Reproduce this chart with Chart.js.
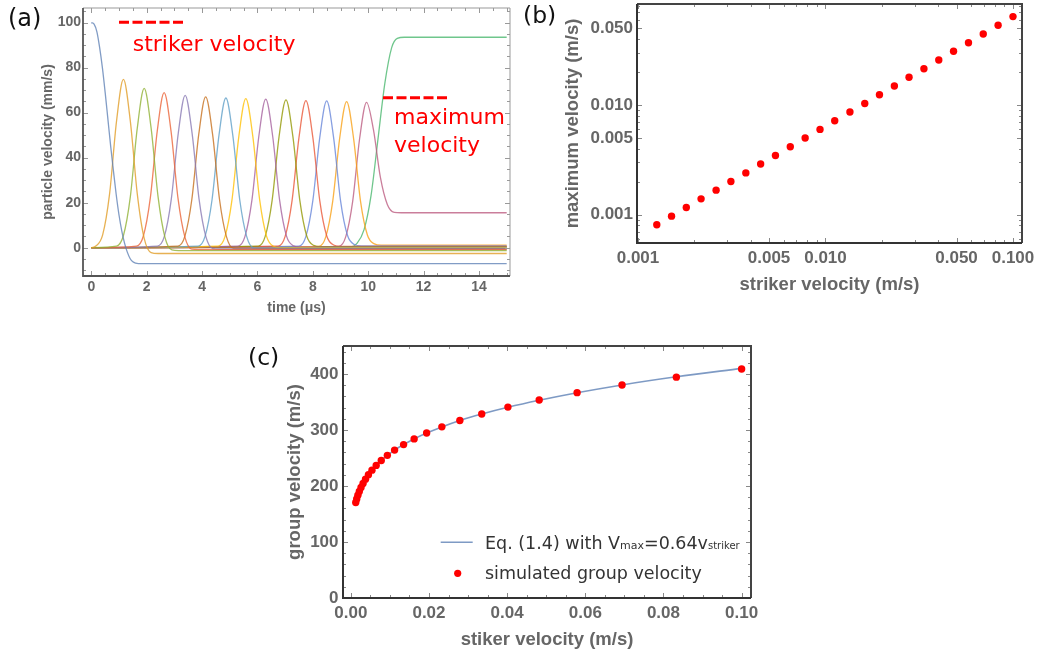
<!DOCTYPE html>
<html>
<head>
<meta charset="utf-8">
<script src="https://cdn.jsdelivr.net/npm/chart.js@4.4.1/dist/chart.umd.min.js"></script>
<style>
  html, body { margin: 0; padding: 0; background: #fff; }
  body { width: 1043px; height: 656px; position: relative; overflow: hidden; font-family: 'DejaVu Sans', sans-serif; }
  .box { position: absolute; }
  .lbl { position: absolute; line-height: 1; white-space: nowrap; }
  svg { position: absolute; left: 0; top: 0; pointer-events: none; }
</style>
</head>
<body>
<div class="box" style="left:0;top:0;width:520px;height:320px"><canvas id="chartA"></canvas></div>
<div class="box" style="left:520px;top:0;width:523px;height:310px"><canvas id="chartB"></canvas></div>
<div class="box" style="left:240px;top:330px;width:540px;height:326px"><canvas id="chartC"></canvas></div>

<div class="lbl" style="left:8px;top:5.7px;font-size:24px;color:#111">(a)</div>
<div class="lbl" style="left:523px;top:4.3px;font-size:23.5px;color:#111">(b)</div>
<div class="lbl" style="left:248px;top:345.6px;font-size:23.5px;color:#111">(c)</div>

<div class="lbl" style="left:132.7px;top:33.1px;font-size:22px;color:#ff0000">striker velocity</div>
<div class="lbl" style="left:394px;top:106.4px;font-size:22px;color:#ff0000">maximum</div>
<div class="lbl" style="left:394px;top:134.1px;font-size:22px;color:#ff0000">velocity</div>

<div class="lbl" style="left:485px;top:534.5px;font-size:17.5px;color:#333">Eq. (1.4) with V<span style="font-size:11px">max</span>=0.64v<span style="font-size:10px">striker</span></div>
<div class="lbl" style="left:485px;top:564.5px;font-size:17.5px;color:#333">simulated group velocity</div>

<svg width="1043" height="656">
  <line x1="119" y1="22.3" x2="186" y2="22.3" stroke="#ff0000" stroke-width="3" stroke-dasharray="10 3.5"/>
  <line x1="383" y1="97.7" x2="450" y2="97.7" stroke="#ff0000" stroke-width="3" stroke-dasharray="10 3.5"/>
  <line x1="440.7" y1="542.3" x2="472.7" y2="542.3" stroke="#5E81B5" stroke-opacity="0.8" stroke-width="1.6"/>
  <circle cx="457.7" cy="573.3" r="3.6" fill="#ff0000"/>
</svg>

<script>
// ---------- (a) particle velocity vs time, [t (us), v (mm/s)] ----------
const strikerCurve = [[0,100],[0.1,99.3],[0.2,96],[0.3,89],[0.4,80],[0.5,69],[0.6,57],[0.7,45],[0.8,34],[0.9,23.5],[1.0,14.5],[1.1,7.5],[1.2,2],[1.3,-2],[1.4,-4.8],[1.5,-6.3],[1.6,-6.9],[1.7,-7.1],[15,-7.1]];
const pulse01 = [[0,0],[0.16,0.7],[0.41,5.7],[0.66,23.9],[0.91,56.1],[1.16,74.8],[1.41,56.1],[1.66,23.9],[1.91,4.1],[2.16,-2.2],[2.41,-2.6],[15,-2.6]];
const pulse02 = [[0,0],[0.91,0.7],[1.16,5.4],[1.41,22.7],[1.66,53.1],[1.91,70.8],[2.16,53.1],[2.41,22.7],[2.66,4.6],[2.91,-1.0],[3.16,-1.3],[15,-1.3]];
const pulse03 = [[0,0],[1.63,0.7],[1.88,5.2],[2.13,22.0],[2.38,51.7],[2.63,68.9],[2.88,51.7],[3.13,22.0],[3.38,4.7],[3.63,-0.7],[3.88,-0.9],[15,-0.9]];
const pulse04 = [[0,0],[2.39,0.7],[2.64,5.1],[2.89,21.7],[3.14,50.8],[3.39,67.7],[3.64,50.8],[3.89,21.7],[4.14,4.8],[4.39,-0.4],[4.64,-0.6],[15,-0.6]];
const pulse05 = [[0,0],[3.13,0.7],[3.38,5.1],[3.63,21.4],[3.88,50.3],[4.13,67.0],[4.38,50.3],[4.63,21.4],[4.88,4.9],[5.13,-0.3],[5.38,-0.4],[15,-0.4]];
const pulse06 = [[0,0],[3.86,0.7],[4.11,5.1],[4.36,21.3],[4.61,49.9],[4.86,66.5],[5.11,49.9],[5.36,21.3],[5.61,5.0],[5.86,-0.1],[6.11,-0.2],[15,-0.2]];
const pulse07 = [[0,0],[4.58,0.7],[4.83,5.0],[5.08,21.2],[5.33,49.7],[5.58,66.2],[5.83,49.7],[6.08,21.2],[6.33,5.0],[6.58,0.6],[6.83,0],[15,0]];
const pulse08 = [[0,0],[5.30,0.7],[5.55,5.0],[5.80,21.1],[6.05,49.5],[6.30,66.0],[6.55,49.5],[6.80,21.1],[7.05,5.1],[7.30,0.8],[7.55,0.2],[15,0.2]];
const pulse09 = [[0,0],[6.03,0.7],[6.28,5.0],[6.53,21.0],[6.78,49.3],[7.03,65.7],[7.28,49.3],[7.53,21.0],[7.78,5.2],[8.03,1.0],[8.28,0.4],[15,0.4]];
const pulse10 = [[0,0],[6.75,0.7],[7.00,5.0],[7.25,20.9],[7.50,49.0],[7.75,65.3],[8.00,49.0],[8.25,20.9],[8.50,5.3],[8.75,1.2],[9.00,0.6],[15,0.6]];
const pulse11 = [[0,0],[7.50,0.7],[7.75,5.0],[8.00,20.9],[8.25,48.9],[8.50,65.2],[8.75,48.9],[9.00,20.9],[9.25,5.5],[9.50,1.4],[9.75,0.8],[15,0.8]];
const pulse12 = [[0,0],[8.22,0.6],[8.47,4.9],[8.72,20.8],[8.97,48.7],[9.22,64.9],[9.47,48.7],[9.72,20.8],[9.97,5.6],[10.22,1.7],[10.47,1.1],[15,1.1]];
const pulse13 = [[0,0],[8.94,0.6],[9.19,4.9],[9.44,20.7],[9.69,48.5],[9.94,64.6],[10.19,52.3],[10.44,31.2],[10.69,19.2],[10.94,15.7],[11.19,15.5],[15,15.5]];
const endCurve = [[0,0],[9.35,0.3],[9.6,2],[9.85,8],[10.1,23],[10.35,48],[10.6,73],[10.85,89],[11.05,93],[11.3,93.5],[15,93.5]];
const aTimeTicks = [0, 2, 4, 6, 8, 10, 12, 14];
const aVelTicks = [0, 20, 40, 60, 80, 100];

// ---------- (b) and (c) ----------
const strikerVel = [0.1, 0.0833, 0.0694, 0.0579, 0.0482, 0.0402, 0.0335, 0.0279, 0.0233, 0.0194, 0.0162, 0.0135, 0.0112, 0.00935, 0.00779, 0.00649, 0.00541, 0.00451, 0.00376, 0.00313, 0.00261, 0.00217, 0.00181, 0.00151, 0.00126];
const maxVel = [0.064, 0.0533, 0.0444, 0.0370, 0.0309, 0.0257, 0.0214, 0.0179, 0.0149, 0.0124, 0.0103, 0.00862, 0.00718, 0.00598, 0.00499, 0.00416, 0.00346, 0.00289, 0.00240, 0.00200, 0.00167, 0.00139, 0.00116, 0.000967, 0.000806];
const groupVelSim = [409, 394.4, 380.3, 366.7, 353.5, 340.9, 328.7, 316.9, 305.6, 294.6, 284.1, 273.9, 264.1, 254.7, 245.5, 236.8, 228.3, 220.1, 212.2, 204.6, 197.3, 190.3, 183.4, 176.9, 170.5];
const groupVelEq = [410, 395, 380.5, 366.5, 353, 340.5, 328.5, 317, 305.5, 294.5, 284, 274, 264, 254.5, 245.5, 236.5, 228, 220, 212, 204.5, 197, 190, 183.5, 177, 170.5];

const bStrikerTicks = [0.001, 0.005, 0.01, 0.05, 0.1];
const bStrikerLabels = ['0.001', '0.005', '0.010', '0.050', '0.100'];
const bMaxTicks = [0.001, 0.005, 0.01, 0.05];
const bMaxLabels = ['0.001', '0.005', '0.010', '0.050'];
const cStrikerTicks = [0, 0.02, 0.04, 0.06, 0.08, 0.1];
const cStrikerLabels = ['0.00', '0.02', '0.04', '0.06', '0.08', '0.10'];
const cGroupTicks = [0, 100, 200, 300, 400];

// Mathematica default palette
const palette = ['#5E81B5', '#E19C24', '#8FB032', '#EB6235', '#8778B3', '#C56E1A', '#5D9EC7', '#FFBF00',
                 '#A5609D', '#929600', '#E95536', '#6685D9', '#F89F13', '#BC5B80', '#47B66D'];

const GREY = '#666';
const TICKFONT = 'Liberation Sans';

// minor tick helpers (only positions of small frame ticks)
function linSteps(from, to, step) {
    const out = [];
    for (let v = from; v <= to + 1e-9; v += step) out.push(+v.toFixed(6));
    return out;
}
function logSteps(decades) {
    const out = [];
    decades.forEach(d => { for (let m = 1; m <= 9; m++) out.push(+(m * d).toPrecision(3)); });
    return out;
}

// frame with inward ticks on all four sides
const frameTicks = {
    id: 'frameTicks',
    afterDatasetsDraw(chart, args, o) {
        const { ctx, chartArea: a } = chart;
        const sx = chart.scales.x, sy = chart.scales.y;
        ctx.save();
        ctx.lineWidth = 1;
        ctx.strokeStyle = o.tickColor;
        ctx.beginPath();
        const mark = (scale, vals, len) => vals.forEach(v => {
            const p = Math.round(scale.getPixelForValue(v)) + 0.5;
            if (scale.isHorizontal()) {
                if (p < a.left || p > a.right) return;
                ctx.moveTo(p, a.bottom); ctx.lineTo(p, a.bottom - len);
                ctx.moveTo(p, a.top); ctx.lineTo(p, a.top + len);
            } else {
                if (p < a.top || p > a.bottom) return;
                ctx.moveTo(a.left, p); ctx.lineTo(a.left + len, p);
                ctx.moveTo(a.right, p); ctx.lineTo(a.right - len, p);
            }
        });
        mark(sx, o.xMajor, 5); mark(sx, o.xMinor, 3);
        mark(sy, o.yMajor, 5); mark(sy, o.yMinor, 3);
        ctx.stroke();
        ctx.lineWidth = o.sideWidth; ctx.strokeStyle = o.sideColor;
        ctx.beginPath();
        ctx.moveTo(a.right, a.bottom); ctx.lineTo(a.right, a.top); ctx.lineTo(a.left, a.top);
        ctx.stroke();
        ctx.lineWidth = o.axisWidth; ctx.strokeStyle = o.axisColor;
        ctx.beginPath();
        ctx.moveTo(a.left, a.top); ctx.lineTo(a.left, a.bottom); ctx.lineTo(a.right, a.bottom);
        ctx.stroke();
        ctx.restore();
    }
};

function axis(opts) {
    return {
        type: opts.type || 'linear',
        min: opts.min,
        max: opts.max,
        grid: { display: false, drawTicks: false },
        border: { display: false },
        afterBuildTicks: sc => { sc.ticks = opts.ticks.map(v => ({ value: v })); },
        ticks: {
            color: GREY,
            font: { family: TICKFONT, size: opts.tickSize, weight: 'bold' },
            padding: opts.tickPad,
            autoSkip: false,
            maxRotation: 0,
            callback: (v, i) => opts.labels ? opts.labels[i] : String(v)
        },
        title: {
            display: true,
            text: opts.title,
            color: GREY,
            font: { family: TICKFONT, size: opts.titleSize, weight: 'bold' },
            padding: opts.titlePad
        },
        // fixed axis box, no extra room for edge labels
        afterFit: sc => {
            if (opts.width) sc.width = opts.width;
            if (opts.height) sc.height = opts.height;
            sc.paddingTop = 0; sc.paddingBottom = 0;
            sc.paddingLeft = 0; sc.paddingRight = 0;
        }
    };
}

const common = {
    responsive: true,
    maintainAspectRatio: false,
    animation: false,
    events: []
};

// ---------- chart (a) ----------
const aCurves = [strikerCurve, pulse01, pulse02, pulse03, pulse04, pulse05, pulse06, pulse07,
                 pulse08, pulse09, pulse10, pulse11, pulse12, pulse13, endCurve];

new Chart(document.getElementById('chartA'), {
    type: 'line',
    data: {
        datasets: aCurves.map((c, i) => ({
            data: c.map(p => ({ x: p[0], y: p[1] })),
            borderColor: palette[i] + 'C8',
            borderWidth: 1.3,
            pointRadius: 0,
            cubicInterpolationMode: 'monotone',
            fill: false
        }))
    },
    options: Object.assign({}, common, {
        layout: { padding: { left: 0, top: 8, right: 10, bottom: 0 } },
        scales: {
            x: axis({ min: -0.3, max: 15.12, ticks: aTimeTicks, tickSize: 14, tickPad: 3,
                      title: 'time (μs)', titleSize: 14, titlePad: { top: 0, bottom: 3.6 }, height: 44 }),
            y: axis({ min: -12.6, max: 106.5, ticks: aVelTicks, tickSize: 14, tickPad: 2,
                      title: 'particle velocity (mm/s)', titleSize: 14, titlePad: { top: 39.6, bottom: 0 }, width: 83 })
        },
        plugins: {
            legend: { display: false },
            tooltip: { enabled: false },
            frameTicks: {
                xMajor: aTimeTicks, xMinor: linSteps(0, 15, 0.5),
                yMajor: aVelTicks, yMinor: linSteps(-10, 105, 5),
                tickColor: '#999', axisColor: '#555', axisWidth: 1.8, sideColor: '#999', sideWidth: 1
            }
        }
    }),
    plugins: [frameTicks]
});

// ---------- chart (b) ----------
new Chart(document.getElementById('chartB'), {
    type: 'scatter',
    data: {
        datasets: [{
            data: strikerVel.map((v, i) => ({ x: v, y: maxVel[i] })),
            backgroundColor: '#ff0000',
            borderWidth: 0,
            pointRadius: 3.7
        }]
    },
    options: Object.assign({}, common, {
        layout: { padding: { left: 0, top: 4, right: 21, bottom: 0 } },
        scales: {
            x: axis({ type: 'logarithmic', min: 0.000988, max: 0.1117, ticks: bStrikerTicks, labels: bStrikerLabels,
                      tickSize: 17, tickPad: 5, title: 'striker velocity (m/s)', titleSize: 18.5,
                      titlePad: { top: 0, bottom: 13.9 }, height: 67 }),
            y: axis({ type: 'logarithmic', min: 0.00055, max: 0.0834, ticks: bMaxTicks, labels: bMaxLabels,
                      tickSize: 17, tickPad: 4, title: 'maximum velocity (m/s)', titleSize: 18.5,
                      titlePad: { top: 41.9, bottom: 0 }, width: 117 })
        },
        plugins: {
            legend: { display: false },
            tooltip: { enabled: false },
            frameTicks: {
                xMajor: bStrikerTicks, xMinor: logSteps([0.001, 0.01]),
                yMajor: bMaxTicks, yMinor: logSteps([0.0001, 0.001, 0.01]),
                tickColor: '#888', axisColor: '#333', axisWidth: 2, sideColor: '#444', sideWidth: 2
            }
        }
    }),
    plugins: [frameTicks]
});

// ---------- chart (c) ----------
new Chart(document.getElementById('chartC'), {
    type: 'scatter',
    data: {
        datasets: [{
            data: strikerVel.map((v, i) => ({ x: v, y: groupVelSim[i] })),
            backgroundColor: '#ff0000',
            borderWidth: 0,
            pointRadius: 3.7
        }, {
            data: strikerVel.map((v, i) => ({ x: v, y: groupVelEq[i] })),
            showLine: true,
            borderColor: '#5E81B5CC',
            borderWidth: 1.6,
            pointRadius: 0,
            cubicInterpolationMode: 'monotone'
        }]
    },
    options: Object.assign({}, common, {
        layout: { padding: { left: 0, top: 16, right: 29, bottom: 0 } },
        scales: {
            x: axis({ min: -0.002, max: 0.1024, ticks: cStrikerTicks, labels: cStrikerLabels,
                      tickSize: 17, tickPad: 5, title: 'stiker velocity (m/s)', titleSize: 18.5,
                      titlePad: { top: 0, bottom: 4.9 }, height: 58 }),
            y: axis({ min: 0, max: 450, ticks: cGroupTicks, tickSize: 17, tickPad: 4.5,
                      title: 'group velocity (m/s)', titleSize: 18.5,
                      titlePad: { top: 44.3, bottom: 0 }, width: 103 })
        },
        plugins: {
            legend: { display: false },
            tooltip: { enabled: false },
            frameTicks: {
                xMajor: cStrikerTicks, xMinor: linSteps(0, 0.1, 0.005),
                yMajor: cGroupTicks, yMinor: linSteps(0, 440, 20),
                tickColor: '#888', axisColor: '#333', axisWidth: 2, sideColor: '#444', sideWidth: 2
            }
        }
    }),
    plugins: [frameTicks]
});
</script>
</body>
</html>
